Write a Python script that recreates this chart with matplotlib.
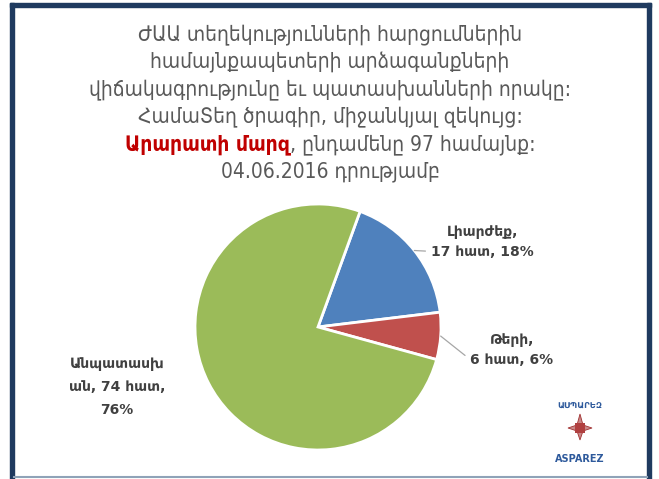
import numpy as np
import matplotlib
matplotlib.use("Agg")
import matplotlib.pyplot as plt
from matplotlib.patches import Rectangle, Polygon
from matplotlib.lines import Line2D

# data
categories = ["Լիարժեք", "Թերի", "Անպատասխան"]
counts = [17, 6, 74]
percents = [18, 6, 76]
colors = ["#4F81BD", "#C0504D", "#9BBB59"]

title_lines = [
    "ԺԱԱ տեղեկությունների հարցումներին",
    "համայնքապետերի արձագանքների",
    "վիճակագրությունը եւ պատասխանների որակը:",
    "ՀամաՏեղ ծրագիր, միջանկյալ զեկույց:",
]
region = "Արարատի մարզ"
region_rest = ", ընդամենը 97 համայնք:"
date_line = "04.06.2016 դրությամբ"

W, H = 659, 479
plt.rcParams['font.family'] = ['DejaVu Sans']
fig = plt.figure(figsize=(W / 100, H / 100), dpi=100)
fig.patch.set_facecolor("white")


def fx(px):
    return px / W


def fy(py):
    return 1 - py / H


# frame
navy = "#1F3A5F"
fig.add_artist(Rectangle((fx(10), fy(479)), fx(4), fy(3) - fy(479), color=navy, transform=fig.transFigure))
fig.add_artist(Rectangle((fx(10), fy(7)), fx(641), fy(3) - fy(7), color=navy, transform=fig.transFigure))
fig.add_artist(Rectangle((fx(647), fy(479)), fx(4), fy(3) - fy(479), color=navy, transform=fig.transFigure))
fig.add_artist(Line2D([fx(14), fx(647)], [fy(476.5), fy(476.5)], color="#8FA3B8", lw=1.5, transform=fig.transFigure))

# title
gray = "#595959"
tsize = 15
ys = [35, 62, 90, 117]
for s, y in zip(title_lines, ys):
    fig.text(fx(330), fy(y), s, ha="center", va="center", fontsize=tsize, color=gray, fontstretch="condensed")
fig.text(fx(330), fy(172), date_line, ha="center", va="center", fontsize=tsize, color=gray, fontstretch="condensed")

# mixed colour line
fig.canvas.draw()
r = fig.canvas.get_renderer()
t1 = fig.text(0, fy(145), region, ha="left", va="center", fontsize=tsize, color="#C00000",
              fontweight="bold", fontstretch="condensed")
t2 = fig.text(0, fy(145), region_rest, ha="left", va="center", fontsize=tsize, color=gray,
              fontstretch="condensed")
w1 = t1.get_window_extent(r).width
w2 = t2.get_window_extent(r).width
x0 = 330 - (w1 + w2) / 2
t1.set_x(fx(x0))
t2.set_x(fx(x0 + w1))

# pie
cx, cy, rad = 318, 327, 123
ax = fig.add_axes([fx(cx - rad), fy(cy + rad), fx(2 * rad), (2 * rad) / H])
wedges, _ = ax.pie(counts, colors=colors, startangle=70, counterclock=False,
                   wedgeprops=dict(edgecolor="white", linewidth=2))
ax.set_xlim(-1, 1)
ax.set_ylim(-1, 1)

lab_color = "#404040"
lsize = 10
line_kw = dict(arrowstyle="-", color="#A6A6A6", lw=0.9, shrinkA=2, shrinkB=0, relpos=(0, 0.22))
# label for Լիարժեք
w = wedges[0]
a = np.deg2rad((w.theta1 + w.theta2) / 2)
ax.annotate(f"{categories[0]},\n{counts[0]} հատ, {percents[0]}%",
            xy=(np.cos(a), np.sin(a)), xytext=((431 - cx) / rad, (cy - 242) / rad),
            ha="left", va="center", fontsize=lsize, fontweight="bold", color=lab_color,
            multialignment="center", linespacing=1.5, arrowprops=line_kw)
w = wedges[1]
a = np.deg2rad((w.theta1 + w.theta2) / 2)
ax.annotate(f"{categories[1]},\n{counts[1]} հատ, {percents[1]}%",
            xy=(np.cos(a), np.sin(a)), xytext=((470 - cx) / rad, (cy - 350) / rad),
            ha="left", va="center", fontsize=lsize, fontweight="bold", color=lab_color,
            multialignment="center", linespacing=1.5, arrowprops=line_kw)
fig.text(fx(117), fy(387), "Անպատասխ\nան, " + f"{counts[2]} հատ,\n{percents[2]}%",
         ha="center", va="center", fontsize=lsize, fontweight="bold", color=lab_color,
         multialignment="center", linespacing=1.85)

# logo
blue = "#2E5A9C"
fig.text(fx(580), fy(405), "ԱՍՊԱՐԵԶ", ha="center", va="center", fontsize=6, color=blue, fontweight="bold")
lx, ly = 580, 428
star = [(lx, ly - 14), (lx + 3, ly - 3), (lx + 12, ly), (lx + 3, ly + 3), (lx, ly + 12),
        (lx - 3, ly + 3), (lx - 12, ly), (lx - 3, ly - 3)]
fig.add_artist(Polygon([(fx(p), fy(q)) for p, q in star], closed=True, facecolor="#C98A8A",
                       edgecolor="#A03030", lw=0.6, transform=fig.transFigure))
fig.add_artist(Rectangle((fx(lx - 5), fy(ly + 5)), fx(10), fy(ly - 5) - fy(ly + 5),
                         facecolor="#B04040", edgecolor="none", transform=fig.transFigure))
fig.text(fx(580), fy(459), "ASPAREZ", ha="center", va="center", fontsize=7, color=blue, fontweight="bold")

fig.savefig("out.png", dpi=100)
